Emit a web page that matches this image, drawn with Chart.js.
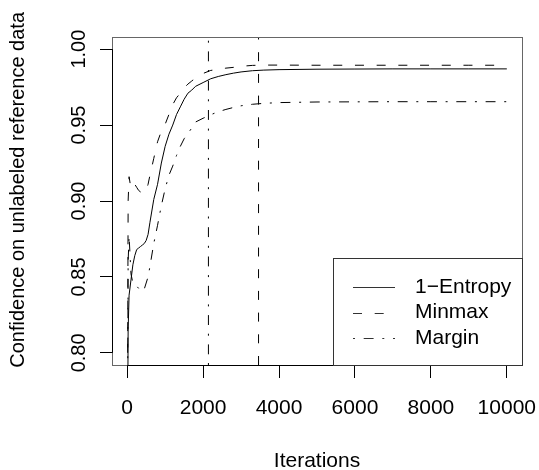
<!DOCTYPE html>
<html lang="en">
<head>
<meta charset="UTF-8">
<title>Confidence on unlabeled reference data</title>
<script src="https://cdn.jsdelivr.net/npm/chart.js@4.4.1/dist/chart.umd.min.js"></script>
<style>
  html, body { margin: 0; padding: 0; background: #fff; }
  #wrap { width: 539px; height: 470px; }
</style>
</head>
<body>
<div id="wrap"><canvas id="myChart" width="539" height="470"></canvas></div>
<script>
// values
var iterations = [0, 25, 50, 100, 150, 200, 250, 300, 350, 400, 450, 500, 550, 600, 700, 800, 900, 1000,
                  1100, 1200, 1300, 1400, 1500, 1600, 1700, 1800, 2000, 2200, 2400, 2600, 2800, 3000,
                  3300, 3600, 4000, 5000, 6000, 7000, 8000, 9000, 10000];
var entropy = [0.700, 0.815, 0.838, 0.848, 0.858, 0.864, 0.868, 0.869, 0.870, 0.871, 0.872, 0.874, 0.878, 0.886, 0.901, 0.911, 0.925, 0.936,
               0.944, 0.950, 0.957, 0.962, 0.967, 0.971, 0.973, 0.9755, 0.978, 0.9805, 0.982, 0.9832, 0.9842, 0.985,
               0.9858, 0.9862, 0.9865, 0.9868, 0.9869, 0.987, 0.987, 0.987, 0.987];
var minmax = [0.700, 0.900, 0.916, 0.908, 0.910, 0.911, 0.909, 0.907, 0.906, 0.905, 0.905, 0.907, 0.911, 0.917, 0.928, 0.939, 0.946, 0.9505,
              0.957, 0.9635, 0.968, 0.971, 0.9745, 0.977, 0.979, 0.981, 0.984, 0.986, 0.9866, 0.9875, 0.988, 0.9887,
              0.9893, 0.9895, 0.9895, 0.9894, 0.9894, 0.9894, 0.9894, 0.9894, 0.9894];
var margin = [0.700, 0.860, 0.877, 0.852, 0.846, 0.8456, 0.844, 0.8425, 0.841, 0.8405, 0.842, 0.846, 0.850, 0.857, 0.872, 0.884, 0.897, 0.908,
              0.917, 0.923, 0.930, 0.936, 0.941, 0.9445, 0.948, 0.952, 0.9545, 0.9568, 0.9588, 0.9603, 0.9616, 0.9627,
              0.9637, 0.9643, 0.9648, 0.9652, 0.9653, 0.9654, 0.9654, 0.9654, 0.9654];
var cutoffs = [2140, 3460];          // vertical markers (dot-dash, dashed)
var seriesNames = ['1\u2212Entropy', 'Minmax', 'Margin'];
var xTicks = [0, 2000, 4000, 6000, 8000, 10000];
var yTicks = [0.80, 0.85, 0.90, 0.95, 1.00];
var xRange = [-400, 10400];
var yRange = [0.792, 1.008];

var FONT = 'Liberation Sans, Arial, Helvetica, sans-serif';
var dashed = [9, 12.7];
var dotDash = [2, 8.7, 9.9, 8.7];

function pairs(xs, ys) {
    return xs.map(function (x, i) { return {x: x, y: ys[i]}; });
}
function vline(x) {
    return [{x: x, y: yRange[0]}, {x: x, y: yRange[1]}];
}
function lineSet(label, data, dash, inLegend) {
    return {
        label: label, data: data, borderColor: '#000', borderWidth: 1,
        borderDash: dash, pointRadius: 0, fill: false, tension: 0, inLegend: inLegend
    };
}

// R style frame: grey box, black axis lines between first and last tick, legend box
var rFrame = {
    id: 'rFrame',
    afterDraw: function (chart) {
        var ctx = chart.ctx, a = chart.chartArea;
        var xs = chart.scales.x, ys = chart.scales.y;
        ctx.save();
        ctx.lineWidth = 1;
        ctx.strokeStyle = '#666';
        ctx.strokeRect(Math.round(a.left) + 0.5, Math.round(a.top) + 0.5,
                       Math.round(a.right - a.left), Math.round(a.bottom - a.top));

        ctx.strokeStyle = '#000';
        ctx.beginPath();
        var yb = Math.round(a.bottom) + 0.5, xl = Math.round(a.left) + 0.5;
        ctx.moveTo(xs.getPixelForValue(xTicks[0]), yb);
        ctx.lineTo(xs.getPixelForValue(xTicks[xTicks.length - 1]), yb);
        ctx.moveTo(xl, ys.getPixelForValue(yTicks[0]));
        ctx.lineTo(xl, ys.getPixelForValue(yTicks[yTicks.length - 1]));
        ctx.stroke();

        // legend, bottom right corner of the plot
        var bw = 189, bh = 107;
        var bx = Math.round(a.right) - bw, by = Math.round(a.bottom) - bh;
        ctx.strokeStyle = '#333';
        ctx.strokeRect(bx + 0.5, by + 0.5, bw, bh);
        var items = chart.data.datasets.filter(function (d) { return d.inLegend; });
        ctx.font = '21px ' + FONT;
        ctx.fillStyle = '#000';
        ctx.textBaseline = 'middle';
        ctx.textAlign = 'left';
        items.forEach(function (d, i) {
            var y = by + 29 + i * 25.5;
            ctx.setLineDash(d.borderDash);
            ctx.beginPath();
            ctx.moveTo(bx + 20, Math.round(y) + 0.5);
            ctx.lineTo(bx + 62, Math.round(y) + 0.5);
            ctx.stroke();
            ctx.setLineDash([]);
            ctx.fillText(d.label, bx + 82, y);
        });
        ctx.restore();
    }
};

var ctx = document.getElementById('myChart').getContext('2d');
var myChart = new Chart(ctx, {
    type: 'line',
    data: {
        datasets: [
            lineSet(seriesNames[0], pairs(iterations, entropy), [], true),
            lineSet(seriesNames[1], pairs(iterations, minmax), dashed, true),
            lineSet(seriesNames[2], pairs(iterations, margin), dotDash, true),
            lineSet('cut1', vline(cutoffs[0]), dotDash, false),
            lineSet('cut2', vline(cutoffs[1]), dashed, false)
        ]
    },
    options: {
        responsive: false,
        animation: false,
        devicePixelRatio: 1,
        layout: { padding: { top: 37, right: 17, left: 0, bottom: 0 } },
        plugins: { legend: { display: false }, tooltip: { enabled: false } },
        scales: {
            x: {
                type: 'linear', min: xRange[0], max: xRange[1],
                afterBuildTicks: function (s) { s.ticks = xTicks.map(function (v) { return {value: v}; }); },
                afterFit: function (s) { s.height = 105; s.paddingLeft = 0; s.paddingRight = 0; },
                grid: { drawOnChartArea: false, drawTicks: true, tickLength: 13, color: '#000' },
                border: { display: false },
                ticks: {
                    autoSkip: false, maxRotation: 0, padding: 18, color: '#000',
                    font: { family: FONT, size: 21 },
                    callback: function (v) { return String(v); }
                },
                title: {
                    display: true, text: 'Iterations', color: '#000',
                    font: { family: FONT, size: 21, lineHeight: 1 }, padding: { bottom: -2, top: 0 }
                }
            },
            y: {
                type: 'linear', min: yRange[0], max: yRange[1],
                afterBuildTicks: function (s) { s.ticks = yTicks.map(function (v) { return {value: v}; }); },
                afterFit: function (s) { s.width = 112; s.paddingTop = 0; s.paddingBottom = 0; },
                grid: { drawOnChartArea: false, drawTicks: true, tickLength: 12, color: '#000' },
                border: { display: false },
                ticks: {
                    autoSkip: false, minRotation: 90, maxRotation: 90, crossAlign: 'center',
                    padding: 1, color: '#000',
                    font: { family: FONT, size: 20 },
                    callback: function (v) { return v.toFixed(2); }
                },
                title: {
                    // leading spaces nudge the centred title upwards like the original
                    display: true, text: '    Confidence on unlabeled reference data', color: '#000',
                    font: { family: FONT, size: 20, lineHeight: 1 }, padding: { top: 8, bottom: 0 }
                }
            }
        }
    },
    plugins: [rFrame]
});
</script>
</body>
</html>
